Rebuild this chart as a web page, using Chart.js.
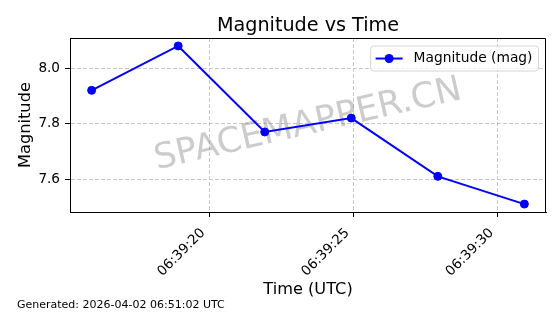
<!DOCTYPE html>
<html lang="en">
<head>
    <meta charset="UTF-8">
    <title>Magnitude vs Time</title>
    <script src="https://cdn.jsdelivr.net/npm/chart.js"></script>
    <style>
        body {
            margin: 0;
            background: #fff;
            font-family: "DejaVu Sans", sans-serif;
        }
        #wrap {
            position: relative;
            width: 560px;
            height: 314px;
        }
        #footer {
            position: absolute;
            left: 17px;
            top: 298px;
            font-size: 11px;
            line-height: 13px;
            color: #000;
            white-space: nowrap;
        }
    </style>
</head>
<body>
    <div id="wrap">
        <canvas id="magChart" width="560" height="314"></canvas>
        <div id="footer">Generated: 2026-04-02 06:51:02 UTC</div>
    </div>

    <script>
        // observation times (UTC) and magnitudes
        const times = ['06:39:15.93', '06:39:18.93', '06:39:21.93', '06:39:24.93', '06:39:27.93', '06:39:30.93'];
        const magnitudes = [7.92, 8.08, 7.77, 7.82, 7.61, 7.51];
        const xTickTimes = ['06:39:20', '06:39:25', '06:39:30'];
        const yTickValues = [7.6, 7.8, 8.0];
        const seriesLabel = 'Magnitude (mag)';
        const watermarkText = 'SPACEMAPPER.CN';

        function toSeconds(t) {
            const p = t.split(':').map(Number);
            return p[0] * 3600 + p[1] * 60 + p[2];
        }
        function fmtTime(s) {
            s = Math.round(s);
            const h = Math.floor(s / 3600), m = Math.floor((s % 3600) / 60), sec = s % 60;
            return [h, m, sec].map(v => String(v).padStart(2, '0')).join(':');
        }

        const xs = times.map(toSeconds);
        const points = xs.map((x, i) => ({ x: x, y: magnitudes[i] }));

        // matplotlib-like 5% margins
        const xMin = Math.min(...xs), xMax = Math.max(...xs);
        const yMin = Math.min(...magnitudes), yMax = Math.max(...magnitudes);
        const xPad = (xMax - xMin) * 0.05, yPad = (yMax - yMin) * 0.05;

        const FONT = '"DejaVu Sans", sans-serif';

        const framePlugin = {
            id: 'frame',
            beforeDatasetsDraw(chart) {
                const { ctx, chartArea: a } = chart;
                ctx.save();
                ctx.translate((a.left + a.right) / 2, (a.top + a.bottom) / 2);
                ctx.rotate(-13 * Math.PI / 180);
                ctx.font = '35px ' + FONT;
                ctx.fillStyle = 'rgba(128,128,128,0.4)';
                ctx.textAlign = 'center';
                ctx.textBaseline = 'middle';
                ctx.fillText(watermarkText, 0, 0);
                ctx.restore();
            },
            afterDraw(chart) {
                const { ctx, chartArea: a } = chart;
                ctx.save();
                // top and right spines
                ctx.strokeStyle = '#000';
                ctx.lineWidth = 1;
                const top = Math.round(a.top) + 0.5, right = Math.round(a.right) - 0.5;
                ctx.beginPath();
                ctx.moveTo(Math.round(a.left), top);
                ctx.lineTo(right, top);
                ctx.lineTo(right, Math.round(a.bottom));
                ctx.stroke();

                // legend box
                ctx.font = '13.8px ' + FONT;
                const tw = ctx.measureText(seriesLabel).width;
                const w = 5.5 + 27 + 11 + tw + 5.5, h = 25;
                const bx = a.right - 8 - w, by = a.top + 7.5;
                ctx.beginPath();
                ctx.roundRect(bx + 0.5, by + 0.5, w, h, 3);
                ctx.fillStyle = 'rgba(255,255,255,0.8)';
                ctx.fill();
                ctx.strokeStyle = 'rgba(204,204,204,0.8)';
                ctx.stroke();
                const cy = by + h / 2 + 0.5;
                ctx.strokeStyle = 'blue';
                ctx.lineWidth = 2;
                ctx.beginPath();
                ctx.moveTo(bx + 5.5, cy);
                ctx.lineTo(bx + 32.5, cy);
                ctx.stroke();
                ctx.fillStyle = 'blue';
                ctx.beginPath();
                ctx.arc(bx + 19, cy, 4.5, 0, Math.PI * 2);
                ctx.fill();
                ctx.fillStyle = '#000';
                ctx.textBaseline = 'middle';
                ctx.fillText(seriesLabel, bx + 43.5, cy);
                ctx.restore();
            }
        };

        new Chart(document.getElementById('magChart'), {
            type: 'line',
            data: {
                datasets: [{
                    label: seriesLabel,
                    data: points,
                    borderColor: 'blue',
                    backgroundColor: 'blue',
                    borderWidth: 2,
                    pointRadius: 4,
                    pointBorderWidth: 1,
                    pointBackgroundColor: 'blue',
                    pointBorderColor: 'blue',
                    tension: 0,
                    fill: false
                }]
            },
            options: {
                responsive: false,
                animation: false,
                devicePixelRatio: 1,
                layout: { padding: { left: 0, right: 14, top: 0, bottom: 0 } },
                plugins: {
                    legend: { display: false },
                    tooltip: { enabled: false },
                    title: {
                        display: true,
                        text: 'Magnitude vs Time',
                        fullSize: false,
                        color: '#000',
                        font: { family: FONT, size: 19.2, weight: 'normal' },
                        padding: { top: 14, bottom: 1 }
                    }
                },
                scales: {
                    x: {
                        type: 'linear',
                        min: xMin - xPad,
                        max: xMax + xPad,
                        afterFit(scale) { scale.height = 102; },
                        afterBuildTicks(scale) {
                            scale.ticks = xTickTimes.map(t => ({ value: toSeconds(t) }));
                        },
                        ticks: {
                            autoSkip: false,
                            minRotation: 45,
                            maxRotation: 45,
                            padding: 8,
                            labelOffset: -6,
                            color: '#000',
                            font: { family: FONT, size: 13.6 },
                            callback: v => fmtTime(v)
                        },
                        grid: {
                            color: 'rgba(176,176,176,0.7)',
                            lineWidth: 1,
                            tickColor: '#000',
                            tickLength: 5,
                            tickWidth: 1,
                            tickBorderDash: []
                        },
                        border: { color: '#000', width: 1, dash: [4, 2] },
                        title: {
                            display: true,
                            text: 'Time (UTC)',
                            color: '#000',
                            font: { family: FONT, size: 16.2 },
                            padding: { top: 0, bottom: 14 }
                        }
                    },
                    y: {
                        min: yMin - yPad,
                        max: yMax + yPad,
                        afterFit(scale) { scale.width = 70; },
                        afterBuildTicks(scale) {
                            scale.ticks = yTickValues.map(v => ({ value: v }));
                        },
                        ticks: {
                            padding: 5,
                            color: '#000',
                            font: { family: FONT, size: 13.6 },
                            callback: v => v.toFixed(1)
                        },
                        grid: {
                            color: 'rgba(176,176,176,0.7)',
                            lineWidth: 1,
                            tickColor: '#000',
                            tickLength: 5,
                            tickWidth: 1,
                            tickBorderDash: []
                        },
                        border: { color: '#000', width: 1, dash: [4, 2] },
                        title: {
                            display: true,
                            text: 'Magnitude',
                            color: '#000',
                            font: { family: FONT, size: 16.2 },
                            padding: { top: 16, bottom: 0 }
                        }
                    }
                }
            },
            plugins: [framePlugin]
        });
    </script>
</body>
</html>
